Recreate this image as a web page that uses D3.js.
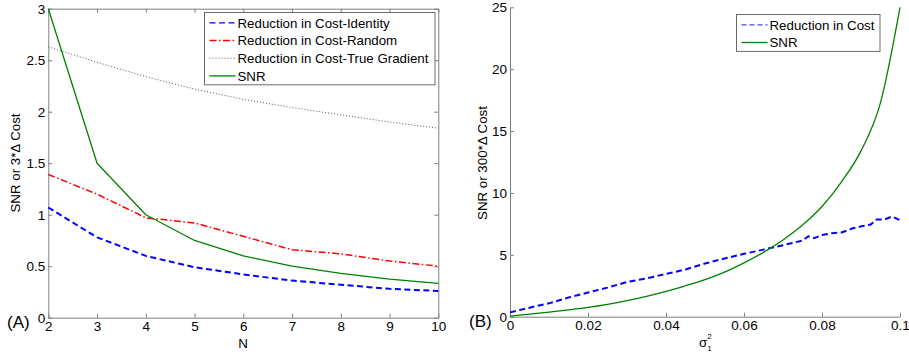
<!DOCTYPE html>
<html>
<head>
<meta charset="utf-8">
<script src="https://cdn.jsdelivr.net/npm/d3@7"></script>
<style>
  body { margin: 0; background: #fff; }
  svg { display: block; font-family: "Liberation Sans", Arial, sans-serif; }
</style>
</head>
<body>
<div id="chart"></div>
<script>
// panel A data
const nValues = [2, 3, 4, 5, 6, 7, 8, 9, 10];
const costIdentity = [1.07, 0.78, 0.60, 0.49, 0.42, 0.36, 0.32, 0.28, 0.26];
const costRandom = [1.39, 1.20, 0.97, 0.92, 0.79, 0.66, 0.62, 0.55, 0.50];
const costTrueGradient = [2.63, 2.48, 2.34, 2.22, 2.12, 2.04, 1.97, 1.90, 1.84];
const snrA = [3.0, 1.5, 1.0, 0.75, 0.6, 0.5, 0.43, 0.375, 0.333];
const xTicksA = [2, 3, 4, 5, 6, 7, 8, 9, 10];
const yTicksA = [0, 0.5, 1, 1.5, 2, 2.5, 3];

// panel B data
const sigmaSnr = [0, 0.005, 0.01, 0.015, 0.02, 0.025, 0.03, 0.035, 0.04, 0.045, 0.05,
  0.055, 0.06, 0.065, 0.07, 0.075, 0.08, 0.085, 0.09, 0.095, 0.1];
const snrB = [0.05, 0.2, 0.37, 0.55, 0.75, 1.0, 1.3, 1.65, 2.05, 2.5, 3.0,
  3.6, 4.35, 5.2, 6.2, 7.4, 8.9, 10.9, 13.4, 17.3, 25.0];
const sigmaCost = [0, 0.005, 0.01, 0.015, 0.02, 0.025, 0.03, 0.035, 0.04, 0.045, 0.05,
  0.055, 0.06, 0.065, 0.07, 0.075, 0.0765, 0.078, 0.08, 0.0825, 0.085, 0.0875,
  0.09, 0.0925, 0.094, 0.096, 0.098, 0.1];
const costB = [0.35, 0.73, 1.08, 1.55, 1.95, 2.35, 2.8, 3.1, 3.45, 3.82, 4.3,
  4.7, 5.08, 5.42, 5.78, 6.15, 6.5, 6.35, 6.6, 6.75, 6.8, 7.1,
  7.3, 7.45, 7.85, 7.85, 8.1, 7.8];
const xTicksB = [0, 0.02, 0.04, 0.06, 0.08, 0.1];
const yTicksB = [0, 5, 10, 15, 20, 25];

const width = 909, height = 358;
const axisColor = "#7f7f7f";
const fontFam = "Liberation Sans, Arial, sans-serif";

const svg = d3.select("#chart").append("svg")
  .attr("width", width)
  .attr("height", height);

function styleAxis(g) {
  g.select(".domain").attr("stroke", axisColor);
  g.selectAll(".tick line").attr("stroke", axisColor);
  g.selectAll(".tick text").attr("fill", "#000").attr("font-size", 13.5)
    .attr("font-family", fontFam);
}

function drawAxes(x, y, xTicks, yTicks, xFmt, yFmt, box) {
  const [x0, x1] = x.range();
  const [y0, y1] = y.range();
  const gx = svg.append("g").attr("transform", `translate(0,${y0})`)
    .call(d3.axisBottom(x).tickValues(xTicks).tickFormat(xFmt)
      .tickSizeInner(-4).tickSizeOuter(0).tickPadding(4));
  styleAxis(gx);
  const gy = svg.append("g").attr("transform", `translate(${x0},0)`)
    .call(d3.axisLeft(y).tickValues(yTicks).tickFormat(yFmt)
      .tickSizeInner(-4).tickSizeOuter(0).tickPadding(3));
  styleAxis(gy);
  if (box) {
    const gt = svg.append("g").attr("transform", `translate(0,${y1})`)
      .call(d3.axisTop(x).tickValues(xTicks).tickFormat("")
        .tickSizeInner(-4).tickSizeOuter(0));
    styleAxis(gt);
    const gr = svg.append("g").attr("transform", `translate(${x1},0)`)
      .call(d3.axisRight(y).tickValues(yTicks).tickFormat("")
        .tickSizeInner(-4).tickSizeOuter(0));
    styleAxis(gr);
  }
}

function drawLine(xs, ys, x, y, color, widthPx, dash, curve) {
  const line = d3.line().x((d, i) => x(xs[i])).y(d => y(d)).curve(curve || d3.curveLinear);
  svg.append("path")
    .datum(ys)
    .attr("d", line)
    .attr("fill", "none")
    .attr("stroke", color)
    .attr("stroke-width", widthPx)
    .attr("stroke-dasharray", dash)
    .attr("stroke-linejoin", "round");
}

function drawLegend(left, top, w, items) {
  const rowH = 17.7;
  const g = svg.append("g");
  g.append("rect")
    .attr("x", left).attr("y", top)
    .attr("width", w).attr("height", items.length * rowH + 1.5)
    .attr("fill", "#fff").attr("stroke", "#6a6a6a").attr("stroke-width", 1);
  items.forEach((it, i) => {
    const cy = top + 10.3 + i * rowH;
    g.append("line")
      .attr("x1", left + 5).attr("x2", left + 31)
      .attr("y1", cy).attr("y2", cy)
      .attr("stroke", it.color).attr("stroke-width", it.width)
      .attr("stroke-dasharray", it.dash);
    g.append("text")
      .attr("x", left + 33).attr("y", cy)
      .attr("dy", "0.36em")
      .attr("font-size", 13.3)
      .text(it.label);
  });
}

// ---------- panel A ----------
const xA = d3.scaleLinear().domain([2, 10]).range([48.3, 438.3]);
const yA = d3.scaleLinear().domain([0, 3]).range([317.7, 8.7]);

drawAxes(xA, yA, xTicksA, yTicksA, d3.format("d"), d => String(d), true);

const styles = {
  identity: { color: "#0000ff", width: 2, dash: "6,3.5" },
  random: { color: "#ff0000", width: 1.5, dash: "7,2.5,1.5,2.5" },
  trueGrad: { color: "#555", width: 1, dash: "1,2" },
  snr: { color: "#008000", width: 1.3, dash: null }
};

drawLine(nValues, costTrueGradient, xA, yA, styles.trueGrad.color, styles.trueGrad.width, styles.trueGrad.dash);
drawLine(nValues, costRandom, xA, yA, styles.random.color, styles.random.width, styles.random.dash);
drawLine(nValues, costIdentity, xA, yA, styles.identity.color, styles.identity.width, styles.identity.dash);
drawLine(nValues, snrA, xA, yA, styles.snr.color, styles.snr.width, styles.snr.dash);

drawLegend(204.5, 12.5, 230.5, [
  { label: "Reduction in Cost-Identity", ...styles.identity, width: 1.3 },
  { label: "Reduction in Cost-Random", ...styles.random, width: 1.3 },
  { label: "Reduction in Cost-True Gradient", ...styles.trueGrad },
  { label: "SNR", ...styles.snr }
]);

svg.append("text")
  .attr("transform", `translate(20,163) rotate(-90)`)
  .attr("text-anchor", "middle")
  .attr("font-size", 13.3)
  .text("SNR or 3*\u0394 Cost");
svg.append("text")
  .attr("x", 243).attr("y", 348)
  .attr("text-anchor", "middle")
  .attr("font-size", 13.3)
  .text("N");
svg.append("text")
  .attr("x", 7).attr("y", 328)
  .attr("font-size", 17)
  .text("(A)");

// ---------- panel B ----------
const xB = d3.scaleLinear().domain([0, 0.1]).range([510, 900]);
const yB = d3.scaleLinear().domain([0, 25]).range([316.7, 7.3]);

drawAxes(xB, yB, xTicksB, yTicksB, d => d === 0 ? "0" : String(d), d3.format("d"), false);

drawLine(sigmaCost, costB, xB, yB, "#0000ff", 2, "6,3.5");
drawLine(sigmaSnr, snrB, xB, yB, "#008000", 1.3, null, d3.curveMonotoneX);

drawLegend(736.5, 14.5, 143.5, [
  { label: "Reduction in Cost", color: "#4444ff", width: 1.3, dash: "5,3" },
  { label: "SNR", color: "#008000", width: 1.3, dash: null }
]);

svg.append("text")
  .attr("transform", `translate(487,163) rotate(-90)`)
  .attr("text-anchor", "middle")
  .attr("font-size", 13.3)
  .text("SNR or 300*\u0394 Cost");

const sig = svg.append("text")
  .attr("x", 699).attr("y", 347)
  .attr("font-size", 13.3);
sig.append("tspan").text("\u03c3");
sig.append("tspan").attr("font-size", 8).attr("dx", 0).attr("dy", 4).text("1");
sig.append("tspan").attr("font-size", 8).attr("dx", -4.5).attr("dy", -12).text("2");

svg.append("text")
  .attr("x", 469).attr("y", 327)
  .attr("font-size", 17)
  .text("(B)");
</script>
</body>
</html>
